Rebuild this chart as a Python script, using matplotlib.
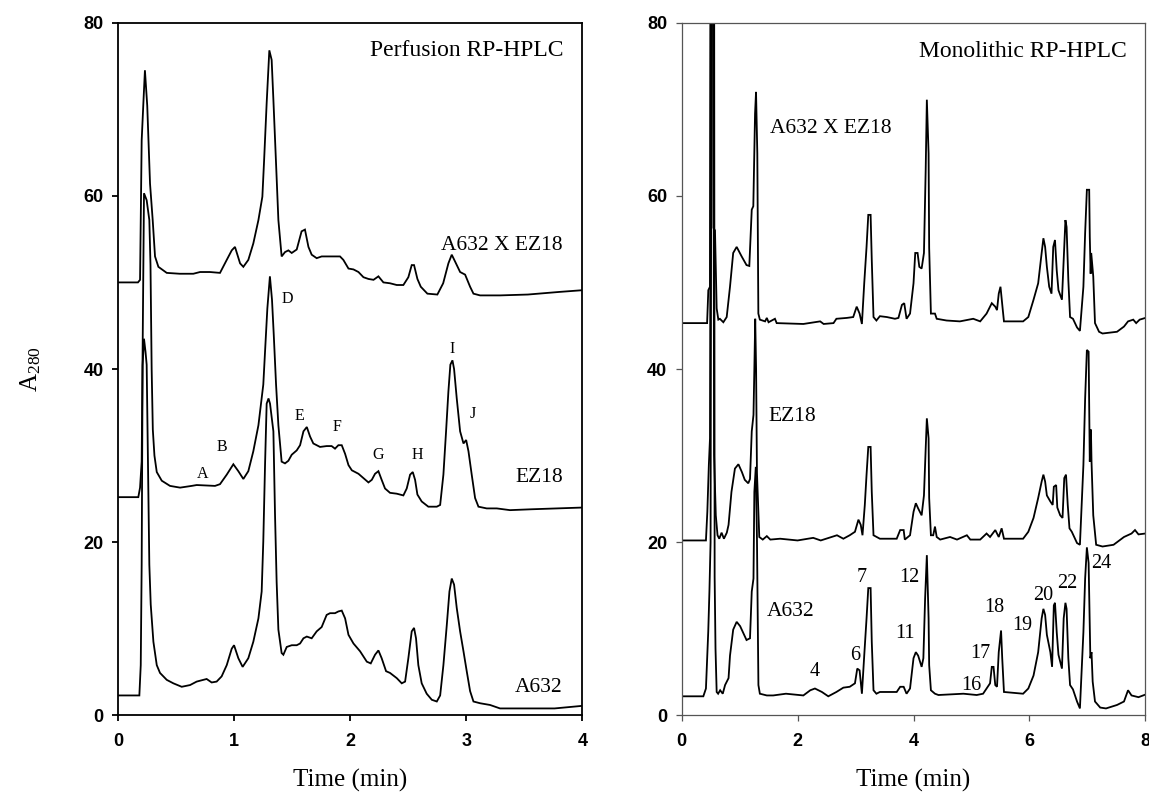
import numpy as np
import matplotlib
matplotlib.use("Agg")
import matplotlib.pyplot as plt

# ---------------- data (time in min, absorbance) ----------------
perf_cross = [
    (0.00, 50.0), (0.17, 50.0), (0.188, 50.3), (0.202, 66.4), (0.217, 70.8), (0.230, 74.5),
    (0.250, 70.4), (0.274, 61.4), (0.297, 57.2), (0.317, 53.0), (0.346, 51.8), (0.418, 51.1),
    (0.53, 51.0), (0.647, 51.0), (0.705, 51.2), (0.79, 51.2), (0.877, 51.1), (0.935, 52.6),
    (0.978, 53.7), (1.006, 54.1), (1.05, 52.2), (1.078, 51.8), (1.121, 52.6), (1.164, 54.5),
    (1.208, 57.2), (1.242, 59.9), (1.257, 64.1), (1.279, 70.7), (1.302, 76.8), (1.322, 75.7),
    (1.337, 71.1), (1.36, 63.7), (1.38, 57.2), (1.408, 53.0), (1.437, 53.5), (1.466, 53.7),
    (1.495, 53.4), (1.538, 53.8), (1.58, 55.9), (1.609, 56.1), (1.639, 54.1), (1.667, 53.2),
    (1.71, 52.8), (1.753, 53.0), (1.796, 53.0), (1.854, 53.0), (1.911, 53.0), (1.94, 52.6),
    (1.984, 51.6), (2.027, 51.5), (2.07, 51.2), (2.113, 50.6), (2.156, 50.4), (2.2, 50.3),
    (2.242, 50.7), (2.285, 50.0), (2.342, 49.9), (2.4, 49.7), (2.457, 49.7), (2.5, 50.6),
    (2.529, 52.0), (2.549, 52.0), (2.578, 50.4), (2.607, 49.5), (2.664, 48.7), (2.75, 48.6),
    (2.8, 49.9), (2.845, 52.2), (2.874, 53.2), (2.903, 52.4), (2.946, 51.2), (2.989, 50.9),
    (3.032, 49.5), (3.061, 48.7), (3.118, 48.5), (3.29, 48.5), (3.53, 48.6), (3.80, 48.9),
    (4.0, 49.1),
]

perf_ez18 = [
    (0.00, 25.2), (0.173, 25.2), (0.188, 26.3), (0.202, 29.3), (0.212, 45.0), (0.222, 60.3),
    (0.245, 59.5), (0.268, 57.2), (0.278, 52.0), (0.288, 40.0), (0.298, 33.0), (0.312, 30.0),
    (0.332, 28.1), (0.375, 27.1), (0.446, 26.5), (0.533, 26.3), (0.633, 26.5), (0.676, 26.6),
    (0.834, 26.5), (0.877, 26.7), (0.935, 27.8), (0.992, 29.0), (1.035, 28.2), (1.078, 27.3),
    (1.121, 28.2), (1.164, 30.5), (1.208, 33.5), (1.25, 38.2), (1.265, 42.0), (1.285, 47.0),
    (1.307, 50.7), (1.325, 48.0), (1.34, 44.0), (1.36, 38.2), (1.38, 33.5), (1.408, 29.3),
    (1.437, 29.1), (1.466, 29.4), (1.495, 30.1), (1.538, 30.6), (1.567, 31.2), (1.596, 32.8),
    (1.625, 33.3), (1.653, 32.2), (1.681, 31.4), (1.739, 31.0), (1.796, 31.1), (1.839, 31.1),
    (1.868, 30.8), (1.897, 31.2), (1.926, 31.2), (1.955, 30.2), (1.984, 28.9), (2.013, 28.3),
    (2.07, 27.9), (2.113, 27.4), (2.156, 26.9), (2.185, 27.2), (2.213, 27.9), (2.242, 28.2),
    (2.27, 27.2), (2.299, 26.2), (2.342, 25.7), (2.4, 25.6), (2.457, 25.4), (2.486, 26.2),
    (2.515, 27.8), (2.538, 28.1), (2.558, 27.2), (2.578, 25.5), (2.615, 24.7), (2.672, 24.1),
    (2.745, 24.1), (2.774, 24.3), (2.802, 27.8), (2.825, 32.8), (2.845, 37.4), (2.862, 40.5),
    (2.88, 41.0), (2.894, 40.0), (2.917, 36.6), (2.946, 32.8), (2.975, 31.4), (2.998, 31.8),
    (3.018, 30.5), (3.046, 27.8), (3.075, 25.1), (3.104, 24.1), (3.175, 23.9), (3.262, 23.9),
    (3.376, 23.7), (3.56, 23.8), (4.0, 24.0),
]

perf_a632 = [
    (0.00, 2.3), (0.182, 2.3), (0.194, 5.8), (0.202, 17.4), (0.21, 40.4), (0.222, 43.5),
    (0.235, 42.0), (0.245, 40.5), (0.268, 17.4), (0.28, 12.8), (0.303, 8.5), (0.332, 5.8),
    (0.36, 4.9), (0.418, 4.1), (0.475, 3.7), (0.547, 3.3), (0.619, 3.5), (0.676, 3.9),
    (0.733, 4.1), (0.762, 4.2), (0.805, 3.8), (0.848, 3.9), (0.891, 4.5), (0.935, 5.8),
    (0.978, 7.7), (0.998, 8.1), (1.035, 6.6), (1.072, 5.6), (1.121, 6.6), (1.164, 8.5),
    (1.208, 11.2), (1.236, 14.3), (1.25, 20.1), (1.265, 28.9), (1.279, 36.0), (1.295, 36.6),
    (1.308, 36.0), (1.337, 32.8), (1.351, 23.2), (1.365, 15.4), (1.38, 9.9), (1.408, 7.2),
    (1.423, 7.0), (1.452, 7.9), (1.495, 8.1), (1.538, 8.1), (1.567, 8.3), (1.596, 8.9),
    (1.625, 9.1), (1.667, 8.9), (1.71, 9.7), (1.753, 10.2), (1.796, 11.6), (1.825, 11.8),
    (1.868, 11.8), (1.897, 12.0), (1.926, 12.1), (1.955, 11.2), (1.984, 9.3), (2.027, 8.3),
    (2.084, 7.4), (2.142, 6.2), (2.176, 6.0), (2.213, 7.0), (2.242, 7.5), (2.27, 6.6),
    (2.308, 5.1), (2.342, 4.9), (2.4, 4.3), (2.443, 3.7), (2.472, 3.9), (2.5, 6.6),
    (2.529, 9.7), (2.549, 10.1), (2.566, 8.9), (2.586, 5.8), (2.615, 3.7), (2.658, 2.5),
    (2.702, 1.8), (2.745, 1.6), (2.774, 2.3), (2.802, 5.8), (2.831, 10.4), (2.854, 14.3),
    (2.874, 15.8), (2.894, 15.1), (2.917, 12.4), (2.946, 9.7), (2.975, 7.4), (3.003, 5.1),
    (3.032, 2.8), (3.061, 1.6), (3.118, 1.4), (3.204, 1.2), (3.29, 0.8), (3.376, 0.8),
    (3.76, 0.8), (4.0, 1.1),
]

mono_cross = [
    (0.0, 45.3), (0.44, 45.3), (0.461, 49.1), (0.49, 49.5), (0.50, 100), (0.535, 100),
    (0.55, 56.3), (0.576, 56.0), (0.605, 47.0), (0.634, 45.7), (0.66, 45.8), (0.72, 45.4),
    (0.778, 46.0), (0.835, 49.5), (0.89, 53.4), (0.95, 54.1), (1.036, 53.0), (1.12, 52.0),
    (1.168, 51.9), (1.21, 58.4), (1.237, 58.8), (1.267, 69.5), (1.284, 72.0), (1.306, 64.9),
    (1.324, 46.4), (1.35, 45.7), (1.44, 45.5), (1.47, 45.9), (1.50, 45.4), (1.61, 45.8),
    (1.64, 45.3), (2.1, 45.2), (2.39, 45.5), (2.45, 45.2), (2.62, 45.3), (2.67, 45.8),
    (2.85, 45.9), (2.96, 46.0), (3.02, 47.2), (3.07, 46.4), (3.11, 45.2), (3.15, 49.9),
    (3.19, 54.1), (3.22, 57.8), (3.26, 57.8), (3.28, 52.6), (3.31, 46.0), (3.36, 45.6),
    (3.42, 46.1), (3.54, 46.0), (3.68, 45.8), (3.74, 45.9), (3.80, 47.4), (3.84, 47.6),
    (3.88, 45.8), (3.94, 46.4), (4.0, 49.9), (4.03, 53.4), (4.07, 53.4), (4.10, 51.8),
    (4.14, 51.6), (4.18, 53.4), (4.21, 63.0), (4.23, 71.1), (4.26, 64.9), (4.27, 54.0),
    (4.30, 46.4), (4.37, 46.4), (4.40, 45.8), (4.57, 45.6), (4.80, 45.5), (5.03, 45.8),
    (5.15, 45.5), (5.26, 46.4), (5.35, 47.6), (5.41, 47.2), (5.44, 46.8), (5.47, 48.7),
    (5.50, 49.5), (5.54, 46.8), (5.56, 45.5), (5.89, 45.5), (5.98, 46.0), (6.07, 48.0),
    (6.15, 49.9), (6.21, 53.4), (6.24, 55.1), (6.27, 54.1), (6.30, 51.8), (6.34, 49.5),
    (6.38, 48.7), (6.41, 54.1), (6.44, 54.9), (6.47, 51.4), (6.50, 49.1), (6.56, 48.0),
    (6.59, 52.6), (6.62, 57.2), (6.64, 56.4), (6.67, 50.3), (6.70, 46.0), (6.75, 45.8),
    (6.82, 44.8), (6.87, 44.4), (6.93, 49.5), (6.96, 55.7), (6.99, 60.7), (7.03, 60.7),
    (7.04, 55.3), (7.055, 51.0), (7.065, 53.4), (7.10, 50.7), (7.13, 45.3), (7.20, 44.3),
    (7.26, 44.1), (7.51, 44.3), (7.63, 44.9), (7.70, 45.5), (7.79, 45.7), (7.84, 45.3),
    (7.90, 45.7), (8.0, 45.9),
]

mono_ez18 = [
    (0.0, 20.2), (0.42, 20.2), (0.444, 23.5), (0.47, 28.9), (0.49, 32.0), (0.51, 100),
    (0.545, 100), (0.56, 30.1), (0.59, 23.1), (0.62, 20.8), (0.65, 20.4), (0.69, 21.1),
    (0.73, 20.4), (0.78, 21.1), (0.81, 22.0), (0.86, 25.8), (0.92, 28.5), (0.98, 29.0),
    (1.04, 28.1), (1.09, 27.2), (1.15, 26.8), (1.18, 27.3), (1.21, 32.8), (1.24, 34.7),
    (1.255, 40.0), (1.27, 45.8), (1.285, 40.0), (1.30, 28.0), (1.34, 20.6), (1.40, 20.3),
    (1.47, 20.7), (1.53, 20.3), (1.70, 20.4), (2.0, 20.2), (2.27, 20.5), (2.40, 20.2),
    (2.68, 20.8), (2.79, 20.4), (2.90, 20.8), (2.99, 21.2), (3.05, 22.6), (3.09, 22.0),
    (3.12, 20.8), (3.16, 24.3), (3.19, 27.8), (3.22, 31.0), (3.26, 31.0), (3.28, 25.8),
    (3.31, 20.8), (3.42, 20.4), (3.71, 20.4), (3.77, 21.4), (3.83, 21.4), (3.85, 20.3),
    (3.94, 20.8), (4.0, 23.5), (4.04, 24.5), (4.08, 23.9), (4.14, 23.1), (4.18, 25.4),
    (4.21, 30.8), (4.23, 34.3), (4.26, 32.0), (4.27, 25.1), (4.30, 20.8), (4.34, 20.8),
    (4.37, 21.8), (4.40, 20.6), (4.46, 20.3), (4.63, 20.6), (4.75, 20.3), (4.92, 20.8),
    (4.98, 20.3), (5.15, 20.3), (5.26, 21.0), (5.32, 20.6), (5.41, 21.4), (5.47, 20.6),
    (5.52, 21.6), (5.56, 20.4), (5.89, 20.4), (5.98, 21.2), (6.07, 22.8), (6.15, 25.1),
    (6.21, 27.0), (6.24, 27.8), (6.27, 27.0), (6.30, 25.4), (6.36, 24.7), (6.40, 24.3),
    (6.42, 26.4), (6.46, 26.6), (6.48, 24.0), (6.53, 23.1), (6.57, 22.8), (6.60, 27.4),
    (6.63, 27.8), (6.66, 24.3), (6.69, 21.6), (6.73, 21.2), (6.82, 19.9), (6.87, 19.7),
    (6.93, 28.9), (6.96, 36.6), (6.99, 42.2), (7.02, 42.0), (7.04, 29.3), (7.06, 33.0),
    (7.07, 29.3), (7.10, 23.1), (7.15, 19.7), (7.26, 19.5), (7.45, 19.7), (7.63, 20.6),
    (7.76, 21.0), (7.82, 21.4), (7.88, 20.9), (8.0, 21.0),
]

mono_a632 = [
    (0.0, 2.2), (0.375, 2.2), (0.42, 3.1), (0.46, 9.7), (0.48, 14.3), (0.50, 20.0),
    (0.52, 100), (0.56, 100), (0.57, 16.0), (0.585, 7.7), (0.605, 2.7), (0.63, 2.5),
    (0.665, 2.9), (0.71, 2.5), (0.75, 3.5), (0.81, 4.3), (0.835, 6.9), (0.89, 9.9),
    (0.95, 10.8), (1.01, 10.3), (1.065, 9.5), (1.12, 8.7), (1.18, 8.9), (1.21, 14.3),
    (1.24, 15.8), (1.255, 25.8), (1.28, 28.7), (1.30, 20.4), (1.325, 3.5), (1.35, 2.5),
    (1.47, 2.3), (1.58, 2.3), (1.8, 2.5), (2.1, 2.3), (2.22, 2.9), (2.30, 3.1),
    (2.42, 2.7), (2.53, 2.2), (2.67, 2.7), (2.79, 3.2), (2.90, 3.3), (2.99, 3.7),
    (3.03, 5.4), (3.07, 5.2), (3.11, 2.5), (3.15, 6.9), (3.19, 11.2), (3.22, 14.7),
    (3.26, 14.7), (3.28, 8.5), (3.31, 2.9), (3.36, 2.5), (3.42, 2.7), (3.71, 2.7),
    (3.77, 3.3), (3.83, 3.3), (3.88, 2.5), (3.94, 3.1), (4.0, 6.6), (4.04, 7.3),
    (4.08, 6.9), (4.14, 5.6), (4.17, 6.6), (4.20, 13.5), (4.23, 18.5), (4.26, 11.2),
    (4.27, 5.8), (4.30, 2.9), (4.37, 2.5), (4.43, 2.35), (4.86, 2.5), (5.09, 2.35),
    (5.20, 2.5), (5.26, 3.1), (5.32, 3.7), (5.35, 5.6), (5.38, 5.6), (5.41, 3.5),
    (5.44, 3.3), (5.47, 7.3), (5.51, 9.8), (5.53, 6.6), (5.56, 2.7), (5.89, 2.5),
    (5.98, 3.1), (6.07, 4.6), (6.15, 7.3), (6.21, 11.2), (6.24, 12.3), (6.27, 11.6),
    (6.30, 9.3), (6.36, 7.3), (6.39, 5.6), (6.42, 12.7), (6.44, 13.0), (6.47, 9.6),
    (6.50, 7.0), (6.56, 5.4), (6.59, 11.2), (6.62, 13.0), (6.64, 12.3), (6.67, 6.6),
    (6.70, 3.5), (6.75, 3.0), (6.82, 1.6), (6.87, 0.8), (6.93, 9.6), (6.96, 15.8),
    (6.99, 19.4), (7.02, 17.6), (7.05, 6.6), (7.07, 7.3), (7.09, 3.9), (7.13, 1.6),
    (7.22, 0.9), (7.32, 0.8), (7.51, 1.2), (7.63, 1.6), (7.70, 2.9), (7.76, 2.3),
    (7.88, 2.1), (8.0, 2.4),
]

# peak letter labels (left) : (label, time, absorbance baseline)
perf_peak_labels = [("A", 0.73, 27.4), ("B", 0.894, 30.5), ("D", 1.455, 47.6), ("E", 1.56, 34.1),
                    ("F", 1.886, 32.8), ("G", 2.24, 29.6), ("H", 2.574, 29.6), ("I", 2.88, 41.8),
                    ("J", 3.056, 34.3)]
# peak number labels (right)
mono_peak_labels = [("4", 2.30, 4.5), ("6", 3.00, 6.4), ("7", 3.11, 15.4), ("11", 3.86, 8.9),
                    ("12", 3.93, 15.4), ("16", 5.00, 2.9), ("17", 5.15, 6.6), ("18", 5.40, 11.9),
                    ("19", 5.88, 9.9), ("20", 6.23, 13.3), ("22", 6.66, 14.7), ("24", 7.24, 17.0)]

perf_trace_labels = [("A632 X EZ18", 3.83, 53.8), ("EZ18", 3.83, 27.0), ("A632", 3.83, 2.7)]
mono_trace_labels = [("A632 X EZ18", 1.53, 67.2), ("EZ18", 1.50, 34.0), ("A632", 1.47, 11.5)]

y_ticks = [0, 20, 40, 60, 80]
perf_x_ticks = [0, 1, 2, 3, 4]
mono_x_ticks = [0, 2, 4, 6, 8]

# ---------------- drawing ----------------
SERIF = "Liberation Serif"
SANS = "Liberation Sans"
plt.rcParams["mathtext.fontset"] = "custom"
plt.rcParams["mathtext.rm"] = SERIF

fig = plt.figure(figsize=(11.49, 8.0), dpi=100)
ax1 = fig.add_axes([0.1029, 0.1058, 0.4040, 0.8659])
ax2 = fig.add_axes([0.5932, 0.1058, 0.4037, 0.8659])

line_kw = dict(color="black", lw=1.3, solid_joinstyle="miter")

for tr in (perf_cross, perf_ez18, perf_a632):
    a = np.array(tr)
    ax1.plot(a[:, 0], a[:, 1], **line_kw)
for tr in (mono_cross, mono_ez18, mono_a632):
    a = np.array(tr)
    ax2.plot(a[:, 0], a[:, 1], **line_kw)

def style(ax, xticks, xmax, spine_color, spine_lw):
    ax.set_xlim(0, xmax)
    ax.set_ylim(0, 80)
    ax.set_xticks(xticks)
    ax.set_yticks(y_ticks)
    for s in ax.spines.values():
        s.set_color(spine_color)
        s.set_linewidth(spine_lw)
    ax.tick_params(axis="both", direction="out", length=4.5, width=spine_lw,
                   color=spine_color, labelsize=13, top=False, right=False)
    ax.tick_params(axis="x", pad=8)
    ax.tick_params(axis="y", pad=6)
    for lab in ax.get_xticklabels() + ax.get_yticklabels():
        lab.set_fontfamily(SANS)
        lab.set_fontweight("bold")
    ax.set_xlabel("Time (min)", fontfamily=SERIF, fontsize=18, labelpad=14)

style(ax1, perf_x_ticks, 4, "black", 1.3)
style(ax2, mono_x_ticks, 8, "#555555", 0.9)

ax1.set_ylabel(r"$\mathregular{A_{280}}$", fontfamily=SERIF, fontsize=18)
ax1.yaxis.set_label_coords(-0.163, 0.5)

ax1.text(3.84, 76.1, "Perfusion RP-HPLC", fontfamily=SERIF, fontsize=17, ha="right", va="baseline")
ax2.text(7.67, 76.0, "Monolithic RP-HPLC", fontfamily=SERIF, fontsize=17, ha="right", va="baseline")

for txt, t, y in perf_trace_labels:
    ax1.text(t, y, txt, fontfamily=SERIF, fontsize=15.5, ha="right", va="baseline")
for txt, t, y in mono_trace_labels:
    ax2.text(t, y, txt, fontfamily=SERIF, fontsize=15.5, ha="left", va="baseline")
for txt, t, y in perf_peak_labels:
    ax1.text(t, y, txt, fontfamily=SERIF, fontsize=11.5, ha="center", va="baseline")
for txt, t, y in mono_peak_labels:
    ax2.text(t, y, txt, fontfamily=SERIF, fontsize=14.5, ha="center", va="baseline")

fig.savefig("out.png", dpi=100)
